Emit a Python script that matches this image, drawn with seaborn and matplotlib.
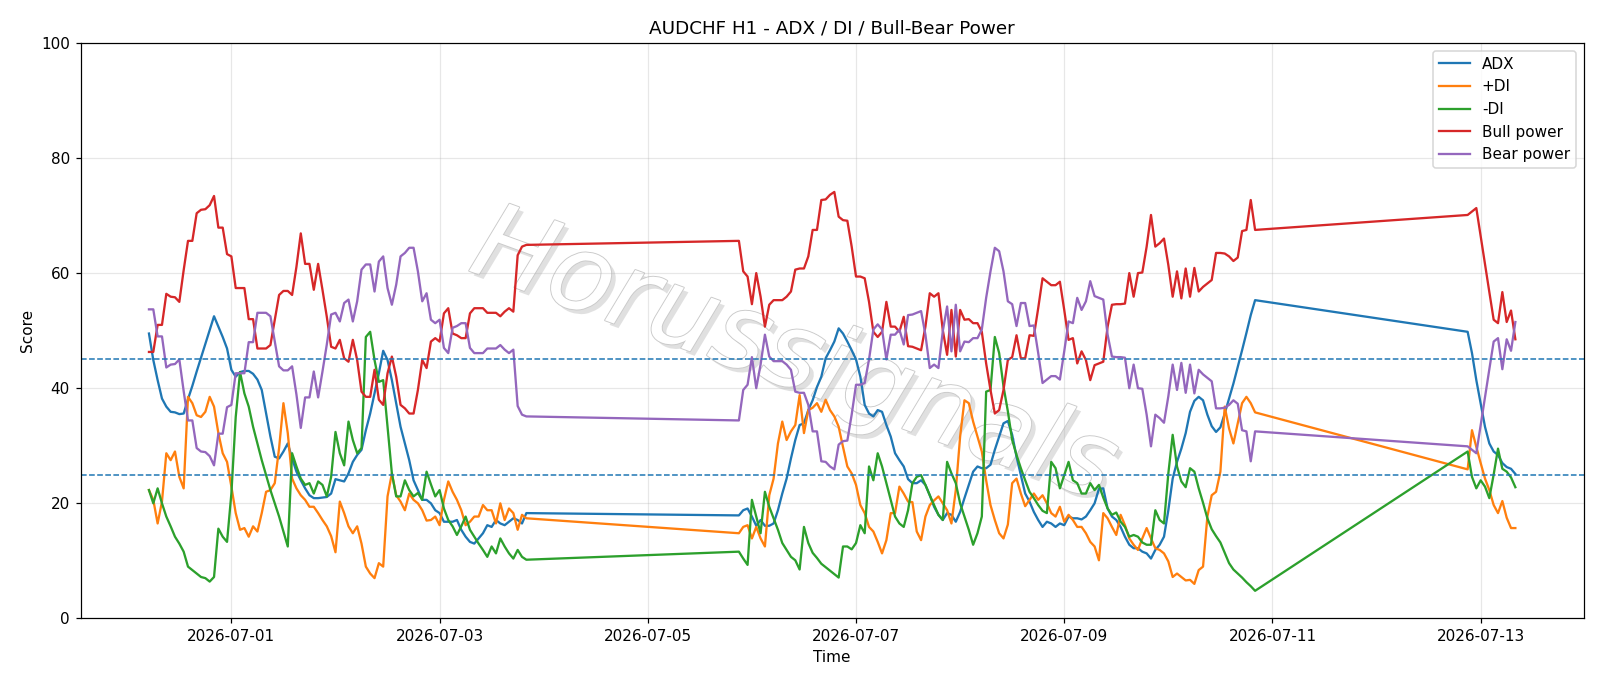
import matplotlib
matplotlib.use("Agg")
import matplotlib.pyplot as plt
import matplotlib.dates as mdates
from matplotlib import patheffects as pe
import pandas as pd
import seaborn as sns

# hourly bars, three trading blocks (weekends are bridged by straight lines)
block1 = pd.date_range("2026-06-30 05:00", "2026-07-03 20:00", freq="h")
block2 = pd.date_range("2026-07-05 21:00", "2026-07-10 20:00", freq="h")
block3 = pd.date_range("2026-07-12 21:00", "2026-07-13 08:00", freq="h")
times = block1.append(block2).append(block3)

adx = [
    49.5, 44.9, 41.4, 38.2, 36.8, 35.9, 35.8, 35.5, 35.6, 38.1,
    40.4, 42.9, 45.3, 47.7, 50.1, 52.5, 50.7, 48.9, 46.9, 43.2,
    42.0, 42.8, 43.0, 43.0, 42.5, 41.5, 39.7, 35.6, 31.6, 28.1,
    27.8, 29.0, 30.4, 27.8, 25.5, 24.0, 22.6, 21.4, 20.9, 20.9,
    21.0, 21.1, 21.7, 24.2, 24.0, 23.8, 25.2, 27.2, 28.4, 29.3,
    32.7, 35.6, 39.1, 42.6, 46.5, 44.9, 41.4, 37.4, 33.3, 30.4,
    27.5, 24.0, 22.3, 20.6, 20.6, 20.0, 18.8, 18.3, 16.8, 16.8,
    16.8, 17.1, 15.4, 14.2, 13.3, 13.0, 13.9, 14.8, 16.2, 15.9,
    17.1, 16.5, 16.2, 16.8, 17.4, 17.1, 16.5, 18.3,
    17.9, 18.8, 19.1, 17.7, 16.1, 17.1, 16.1, 16.1, 16.5, 18.8,
    21.7, 24.3, 27.8, 31.0, 33.6, 33.9, 36.2, 37.9, 40.2, 42.0,
    45.2, 46.6, 48.1, 50.4, 49.5, 48.1, 46.6, 45.0, 42.0, 37.1,
    35.6, 35.1, 36.2, 35.9, 33.6, 31.6, 28.7, 27.5, 26.4, 24.2,
    23.5, 23.5, 24.0, 23.2, 21.4, 19.4, 18.0, 17.1, 18.3, 18.0,
    16.8, 18.5, 20.9, 23.2, 25.5, 26.4, 26.1, 26.1, 26.7, 29.3,
    31.6, 33.9, 34.3, 31.9, 28.1, 24.9, 21.7, 20.3, 18.5, 17.1,
    15.9, 16.8, 16.5, 15.9, 16.5, 16.2, 17.7, 17.4, 17.4, 17.2,
    17.7, 18.8, 20.0, 22.5, 22.6, 19.1, 17.7, 17.1, 15.9, 14.2,
    12.8, 12.2, 12.2, 11.6, 11.3, 10.4, 11.9, 12.8, 14.2, 18.8,
    24.3, 27.2, 29.5, 32.2, 35.9, 37.8, 38.5, 37.9, 35.4, 33.4,
    32.4, 33.2, 35.6, 38.2, 40.8, 43.7, 46.6, 49.6, 52.7, 55.3,
    49.8, 46.1, 41.4, 37.4, 33.3, 30.4, 29.0, 28.4, 27.0, 26.3, 26.0, 25.1,
]

plus_di = [
    22.3, 20.6, 16.5, 20.3, 28.7, 27.5, 29.0, 24.6, 22.6, 38.5,
    37.4, 35.3, 35.0, 35.9, 38.5, 36.8, 32.2, 28.7, 27.2, 22.9,
    18.3, 15.4, 15.7, 14.2, 16.0, 15.1, 18.3, 22.0, 22.3, 23.5,
    29.6, 37.4, 32.2, 24.3, 22.6, 21.4, 20.6, 19.4, 19.4, 18.3,
    17.1, 16.0, 14.3, 11.5, 20.3, 18.3, 16.0, 14.8, 16.0, 13.0,
    9.0, 7.8, 7.0, 9.6, 9.0, 21.2, 25.2, 21.4, 20.3, 18.8,
    21.7, 20.6, 20.0, 18.8, 17.0, 17.1, 17.7, 16.2, 20.6, 23.8,
    22.0, 20.6, 18.8, 16.2, 16.8, 17.7, 17.7, 19.7, 18.8, 18.8,
    16.5, 20.0, 17.1, 19.1, 18.3, 15.4, 18.0, 17.4,
    14.8, 15.9, 16.2, 13.9, 15.9, 13.9, 12.5, 21.4, 24.3, 30.4,
    34.2, 31.0, 32.5, 33.6, 38.8, 32.2, 36.2, 36.6, 37.4, 35.9,
    38.0, 36.2, 35.1, 33.3, 29.8, 26.4, 25.2, 23.2, 19.7, 18.3,
    15.9, 15.1, 13.3, 11.3, 13.6, 18.3, 18.3, 22.9, 21.7, 20.3,
    20.2, 15.1, 13.6, 17.7, 19.7, 20.5, 21.2, 20.0, 18.8, 16.5,
    22.3, 31.6, 37.9, 37.4, 34.2, 31.6, 29.0, 24.0, 19.7, 17.1,
    14.8, 13.9, 16.3, 23.5, 24.3, 21.7, 19.5, 20.6, 21.7, 20.6,
    21.4, 20.0, 18.3, 17.7, 19.4, 16.8, 18.0, 17.1, 15.9, 15.9,
    14.8, 13.3, 12.5, 10.1, 18.3, 17.4, 15.9, 14.5, 18.0, 16.2,
    13.9, 12.8, 11.9, 13.9, 15.7, 13.9, 12.2, 11.9, 11.3, 9.9,
    7.2, 7.8, 7.2, 6.6, 6.7, 6.0, 8.4, 9.0, 17.7, 21.4,
    22.0, 25.5, 36.8, 33.0, 30.4, 33.9, 37.4, 38.5, 37.4, 35.8,
    25.9, 32.7, 29.8, 27.0, 24.3, 22.3, 19.7, 18.3, 20.4, 17.5, 15.7, 15.7,
]

minus_di = [
    22.3, 20.0, 22.6, 20.0, 17.7, 16.0, 14.2, 13.0, 11.6, 9.0,
    8.4, 7.8, 7.2, 7.0, 6.4, 7.2, 15.6, 14.2, 13.3, 21.7,
    35.0, 42.8, 39.1, 36.8, 33.3, 30.4, 27.5, 24.9, 22.3, 20.0,
    17.7, 15.1, 12.5, 28.7, 26.4, 24.3, 23.2, 23.5, 21.7, 23.8,
    23.2, 21.2, 24.6, 32.4, 28.7, 26.6, 34.2, 31.0, 28.7, 29.6,
    48.9, 49.8, 44.9, 41.1, 41.4, 33.3, 25.2, 21.2, 21.2, 24.0,
    22.3, 21.2, 21.8, 20.6, 25.5, 23.3, 21.2, 22.3, 19.1, 17.1,
    16.0, 14.5, 16.0, 17.7, 15.4, 14.2, 13.0, 11.9, 10.7, 12.5,
    11.3, 13.9, 12.5, 11.3, 10.4, 11.9, 10.7, 10.2,
    11.6, 10.4, 9.3, 20.6, 17.7, 14.8, 22.0, 19.4, 17.4, 15.4,
    13.1, 11.9, 10.7, 10.1, 8.5, 15.9, 13.1, 11.4, 10.5, 9.5,
    8.9, 8.3, 7.7, 7.1, 12.5, 12.5, 12.0, 13.1, 16.2, 14.8,
    26.4, 24.0, 28.7, 26.4, 23.5, 20.6, 17.7, 16.5, 15.9, 18.8,
    23.5, 24.6, 24.9, 23.2, 21.4, 19.7, 18.0, 17.1, 27.2, 25.2,
    23.5, 20.0, 17.7, 15.4, 12.8, 14.8, 17.7, 39.4, 39.7, 48.9,
    46.1, 40.3, 36.0, 31.0, 28.4, 26.1, 24.0, 22.0, 20.9, 19.7,
    18.7, 18.3, 27.2, 26.1, 22.6, 24.9, 27.2, 24.0, 23.5, 21.7,
    21.7, 23.5, 22.3, 23.2, 21.0, 19.1, 18.0, 18.4, 16.8, 15.9,
    14.2, 14.5, 14.2, 13.2, 12.8, 12.8, 18.8, 17.1, 16.5, 25.2,
    31.9, 26.4, 23.8, 22.8, 26.1, 25.5, 22.6, 20.1, 17.4, 15.5,
    14.3, 13.2, 11.4, 9.6, 8.5, 7.8, 7.1, 6.3, 5.6, 4.8,
    29.0, 24.6, 22.6, 24.0, 22.9, 20.9, 25.0, 29.5, 26.0, 25.5, 24.5, 22.8,
]

bull_power = [
    46.3, 46.3, 51.0, 51.0, 56.4, 55.9, 55.8, 55.0, 60.5, 65.6,
    65.6, 70.4, 71.0, 71.1, 71.8, 73.4, 67.9, 67.9, 63.3, 62.9,
    57.4, 57.4, 57.4, 52.0, 52.0, 46.9, 46.9, 46.9, 47.5, 51.8,
    56.2, 56.9, 56.9, 56.2, 61.1, 66.9, 61.6, 61.6, 57.1, 61.6,
    57.1, 52.4, 47.2, 46.9, 48.4, 45.2, 44.6, 48.4, 44.9, 39.4,
    38.5, 38.5, 43.2, 38.0, 37.1, 42.6, 45.5, 42.0, 37.1, 36.5,
    35.6, 35.6, 39.7, 44.9, 43.5, 48.1, 48.7, 48.1, 53.0, 53.9,
    49.5, 49.2, 48.7, 48.7, 53.0, 53.9, 53.9, 53.9, 53.1, 53.1,
    53.1, 52.5, 53.3, 53.9, 53.3, 63.1, 64.6, 64.9,
    65.6, 60.3, 59.4, 54.6, 60.0, 55.9, 50.7, 54.5, 55.3, 55.3,
    55.3, 55.9, 56.8, 60.6, 60.8, 60.8, 62.9, 67.5, 67.5, 72.7,
    72.8, 73.6, 74.1, 69.8, 69.2, 69.1, 64.6, 59.4, 59.4, 59.1,
    55.0, 49.8, 48.9, 49.8, 55.0, 50.7, 50.7, 49.8, 52.4, 47.3,
    47.2, 46.9, 46.6, 50.7, 56.5, 55.9, 56.5, 50.1, 45.8, 53.6,
    45.5, 53.6, 51.9, 52.0, 51.3, 51.3, 49.8, 44.3, 39.7, 35.6,
    36.2, 39.7, 44.9, 45.4, 49.2, 45.2, 45.2, 49.2, 49.1, 53.9,
    59.1, 58.5, 57.9, 57.9, 58.5, 53.6, 48.4, 48.7, 44.3, 46.4,
    44.9, 41.4, 44.0, 44.3, 44.6, 50.7, 54.5, 54.6, 54.6, 54.7,
    60.0, 55.9, 60.0, 60.1, 64.6, 70.1, 64.6, 65.2, 66.0, 61.4,
    55.9, 60.3, 55.6, 60.8, 55.9, 60.9, 56.8, 57.6, 58.2, 58.8,
    63.5, 63.5, 63.4, 62.9, 62.1, 62.7, 67.3, 67.5, 72.7, 67.5,
    70.1, 70.7, 71.3, 66.4, 61.5, 56.7, 51.9, 51.3, 56.7, 51.5, 53.5, 48.5,
]

bear_power = [
    53.7, 53.7, 49.0, 49.0, 43.6, 44.1, 44.2, 45.0, 39.5, 34.4,
    34.4, 29.6, 29.0, 28.9, 28.2, 26.6, 32.1, 32.1, 36.7, 37.1,
    42.6, 42.6, 42.6, 48.0, 48.0, 53.1, 53.1, 53.1, 52.5, 48.2,
    43.8, 43.1, 43.1, 43.8, 38.9, 33.1, 38.4, 38.4, 42.9, 38.4,
    42.9, 47.6, 52.8, 53.1, 51.6, 54.8, 55.4, 51.6, 55.1, 60.6,
    61.5, 61.5, 56.8, 62.0, 62.9, 57.4, 54.5, 58.0, 62.9, 63.5,
    64.4, 64.4, 60.3, 55.1, 56.5, 51.9, 51.3, 51.9, 47.0, 46.1,
    50.5, 50.8, 51.3, 51.3, 47.0, 46.1, 46.1, 46.1, 46.9, 46.9,
    46.9, 47.5, 46.7, 46.1, 46.7, 36.9, 35.4, 35.1,
    34.4, 39.7, 40.6, 45.4, 40.0, 44.1, 49.3, 45.5, 44.7, 44.7,
    44.7, 44.1, 43.2, 39.4, 39.2, 39.2, 37.1, 32.5, 32.5, 27.3,
    27.2, 26.4, 25.9, 30.2, 30.8, 30.9, 35.4, 40.6, 40.6, 40.9,
    45.0, 50.2, 51.1, 50.2, 45.0, 49.3, 49.3, 50.2, 47.6, 52.7,
    52.8, 53.1, 53.4, 49.3, 43.5, 44.1, 43.5, 49.9, 54.2, 46.4,
    54.5, 46.4, 48.1, 48.0, 48.7, 48.7, 50.2, 55.7, 60.3, 64.4,
    63.8, 60.3, 55.1, 54.6, 50.8, 54.8, 54.8, 50.8, 50.9, 46.1,
    40.9, 41.5, 42.1, 42.1, 41.5, 46.4, 51.6, 51.3, 55.7, 53.6,
    55.1, 58.6, 56.0, 55.7, 55.4, 49.3, 45.5, 45.4, 45.4, 45.3,
    40.0, 44.1, 40.0, 39.9, 35.4, 29.9, 35.4, 34.8, 34.0, 38.6,
    44.1, 39.7, 44.4, 39.2, 44.1, 39.1, 43.2, 42.4, 41.8, 41.2,
    36.5, 36.5, 36.6, 37.1, 37.9, 37.3, 32.7, 32.5, 27.3, 32.5,
    29.9, 29.3, 28.7, 33.6, 38.5, 43.3, 48.1, 48.7, 43.3, 48.5, 46.5, 51.5,
]

series = [
    ("ADX", adx, "tab:blue"),
    ("+DI", plus_di, "tab:orange"),
    ("-DI", minus_di, "tab:green"),
    ("Bull power", bull_power, "tab:red"),
    ("Bear power", bear_power, "tab:purple"),
]

fig, ax = plt.subplots(figsize=(1600 / 110, 686 / 110), dpi=110)
fig.subplots_adjust(left=0.0504, right=0.9898, top=0.9375, bottom=0.0985)

for name, vals, color in series:
    sns.lineplot(x=times, y=vals, ax=ax, color=color, label=name, linewidth=1.5)

ax.axhline(45, linestyle="--", linewidth=1, color="tab:blue")
ax.axhline(25, linestyle="--", linewidth=1, color="tab:blue")

ax.set_ylim(0, 100)
ax.set_xticks(pd.date_range("2026-07-01", "2026-07-13", freq="2D"))
ax.xaxis.set_major_formatter(mdates.DateFormatter("%Y-%m-%d"))
ax.grid(True, alpha=0.3)
ax.set_title("AUDCHF H1 - ADX / DI / Bull-Bear Power")
ax.set_xlabel("Time")
ax.set_ylabel("Score")
ax.legend(loc="upper right")

# watermark under the lines, italic with a soft shadow
ax.text(0.496, 0.478, "Horussignals", transform=fig.transFigure,
        fontsize=69, rotation=-20, ha="center", va="center", style="italic",
        color="white", zorder=1,
        path_effects=[pe.SimplePatchShadow(offset=(3, -3), shadow_rgbFace="#a8a8a8", alpha=0.35),
                      pe.Stroke(linewidth=1.2, foreground="#cacaca"),
                      pe.Normal()])

fig.savefig("out.png", dpi=110)
